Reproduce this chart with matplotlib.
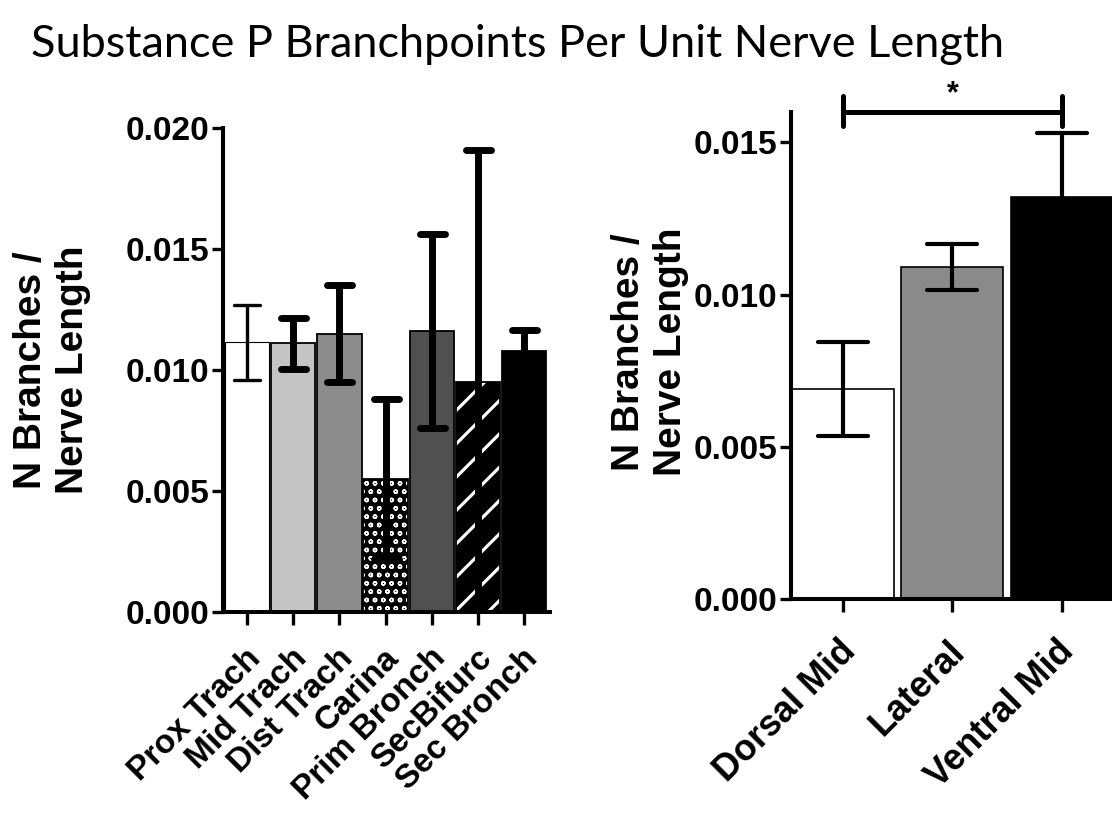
import matplotlib
matplotlib.use("Agg")
import matplotlib.pyplot as plt
import matplotlib.transforms as mtransforms
from matplotlib.markers import MarkerStyle

# left panel: airway regions
airway_sites = ["Prox Trach", "Mid Trach", "Dist Trach", "Carina",
                "Prim Bronch", "SecBifurc", "Sec Bronch"]
airway_means = [0.01115, 0.0111, 0.0115, 0.0055, 0.0116, 0.0095, 0.0108]
airway_err = [0.00155, 0.00105, 0.0020, 0.0033, 0.0040, 0.0096, 0.00085]
airway_ticks = [0.000, 0.005, 0.010, 0.015, 0.020]

# right panel: circumferential position
position_sites = ["Dorsal Mid", "Lateral", "Ventral Mid"]
position_means = [0.0069, 0.0109, 0.0132]
position_err = [0.00155, 0.00075, 0.0021]
position_ticks = [0.000, 0.005, 0.010, 0.015]
sig_pair = (0, 2)
sig_text = "*"

BOLD = ["Liberation Sans", "DejaVu Sans"]
plt.rcParams["font.family"] = BOLD
plt.rcParams["font.weight"] = "bold"
plt.rcParams["hatch.linewidth"] = 1.0


def style_axes(ax, ticks, pad):
    for s in ("top", "right"):
        ax.spines[s].set_visible(False)
    for s in ("left", "bottom"):
        ax.spines[s].set_linewidth(2.9)
    ax.set_yticks(ticks)
    ax.set_yticklabels(["%.3f" % t for t in ticks], fontsize=24, fontweight="bold")
    ax.tick_params(axis="y", length=8, width=2.4, pad=2)
    ax.tick_params(axis="x", length=9, width=2.4, pad=pad)
    ax.set_facecolor("none")


def add_errors(ax, x, means, err, lw, capsize):
    eb = ax.errorbar(x, means, yerr=err, fmt="none", ecolor="black",
                     elinewidth=lw, capsize=capsize, capthick=lw, zorder=5)
    for cl in eb[1]:
        cl.set_marker(MarkerStyle("_", capstyle="round"))
        cl.set_markersize(capsize * 2)
        cl.set_markeredgewidth(lw)
    return eb


def shift_labels(ax, dx_px):
    off = mtransforms.ScaledTranslation(dx_px / 100.0, 0, ax.figure.dpi_scale_trans)
    for lab in ax.get_xticklabels():
        lab.set_transform(lab.get_transform() + off)


fig = plt.figure(figsize=(11.12, 8.15), dpi=100)

fig.text(0.028, 0.946, "Substance P Branchpoints Per Unit Nerve Length",
         family=["Lato", "Liberation Sans", "DejaVu Sans"],
         fontweight="normal", fontsize=32.5, ha="left", va="center")

# ---- left panel ----
axL = fig.add_axes([223 / 1112, 1 - 612 / 815, 327 / 1112, 484 / 815])
xl = list(range(len(airway_sites)))
w = 0.96
plain = {0: "#ffffff", 1: "#c4c4c4", 2: "#8c8c8c", 4: "#505050", 6: "#000000"}
for i in xl:
    if i in plain:
        axL.bar(i, airway_means[i], width=w, color=plain[i], edgecolor="black",
                linewidth=0.8 if i == 0 else 1.3, zorder=2)
# carina: dotted pattern
axL.bar(xl[3], airway_means[3], width=w, color="black", edgecolor="white",
        hatch="oo", linewidth=0, zorder=2)
axL.bar(xl[3], airway_means[3], width=w, fill=False, edgecolor="black",
        linewidth=1.3, zorder=3)
# sec bifurc: diagonal white stripes
with plt.rc_context({"hatch.linewidth": 2.3}):
    sb = axL.bar(xl[5], airway_means[5], width=w, color="black", edgecolor="white",
                 hatch="/", linewidth=0, zorder=2)
for p in sb:
    if hasattr(p, "set_hatch_linewidth"):
        p.set_hatch_linewidth(2.3)
axL.bar(xl[5], airway_means[5], width=w, fill=False, edgecolor="black",
        linewidth=1.3, zorder=3)

add_errors(axL, xl[:1], airway_means[:1], airway_err[:1], 2.4, 9.5)
add_errors(axL, xl[1:], airway_means[1:], airway_err[1:], 5.0, 9.0)

axL.set_xlim(-0.52, 6.56)
axL.set_ylim(0, 0.020)
style_axes(axL, airway_ticks, 13)
axL.set_xticks(xl)
axL.set_xticklabels(airway_sites, rotation=45, ha="right", va="top",
                    rotation_mode="anchor", fontsize=24, fontweight="bold")
shift_labels(axL, -2)

fig.text(52 / 1112, 1 - 370 / 815, "N Branches /\nNerve Length", rotation=90,
         ha="center", va="center", fontsize=28, fontweight="bold", linespacing=1.2)

# ---- right panel ----
axR = fig.add_axes([791 / 1112, 1 - 599 / 815, 321 / 1112, 487 / 815])
xr = list(range(len(position_sites)))
axR.bar(xr, position_means, width=0.93, color=["#ffffff", "#8a8a8a", "#000000"],
        edgecolor="black", linewidth=1.2, zorder=2)
add_errors(axR, xr, position_means, position_err, 3.0, 18)
axR.set_xlim(-0.475, 2.46)
axR.set_ylim(0, 0.016)
style_axes(axR, position_ticks, 16)
axR.set_xticks(xr)
axR.set_xticklabels(position_sites, rotation=45, ha="right", va="top",
                    rotation_mode="anchor", fontsize=26, fontweight="bold")
shift_labels(axR, -5)

# significance bracket
a, b = sig_pair
ys = 0.0160
axR.plot([a, b], [ys, ys], color="black", lw=3.6, clip_on=False, zorder=6)
for xv in (a, b):
    axR.plot([xv, xv], [ys - 0.00045, ys + 0.00052], color="black", lw=3.6,
             solid_capstyle="round", clip_on=False, zorder=6)
axR.text((a + b) / 2, ys + 0.0001, sig_text, ha="center", va="bottom",
         fontsize=22, fontweight="bold", clip_on=False)

fig.text(650 / 1112, 1 - 352 / 815, "N Branches /\nNerve Length", rotation=90,
         ha="center", va="center", fontsize=28, fontweight="bold", linespacing=1.2)

fig.savefig("out.png", dpi=100, facecolor="white")
